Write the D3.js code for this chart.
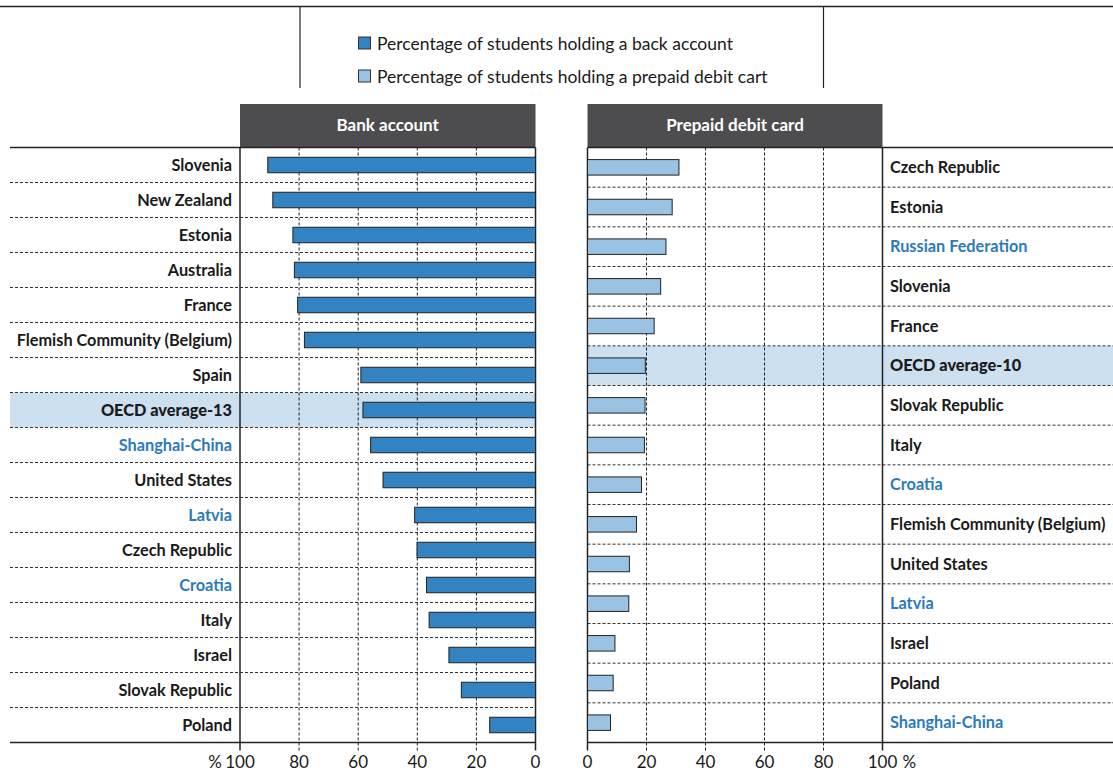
<!DOCTYPE html>
<html>
<head>
<meta charset="utf-8">
<script src="https://cdn.jsdelivr.net/npm/d3@7/dist/d3.min.js"></script>
<style>
  html, body { margin: 0; padding: 0; background: #fff; }
  svg { display: block; font-family: Lato, "Open Sans", sans-serif; }
</style>
</head>
<body>
<svg id="chart" width="1113" height="774"></svg>
<script>
// Bank account panel (left), sorted high to low
const bankCountries = ["Slovenia", "New Zealand", "Estonia", "Australia", "France",
  "Flemish Community (Belgium)", "Spain", "OECD average-13", "Shanghai-China",
  "United States", "Latvia", "Czech Republic", "Croatia", "Italy", "Israel",
  "Slovak Republic", "Poland"];
const bankValues = [90.6, 88.9, 82.1, 81.6, 80.5, 78.2, 59.1, 58.4, 55.8, 51.6,
  40.9, 40.1, 36.9, 36.0, 29.3, 25.1, 15.5];

// Prepaid debit card panel (right), sorted high to low
const cardCountries = ["Czech Republic", "Estonia", "Russian Federation", "Slovenia",
  "France", "OECD average-10", "Slovak Republic", "Italy", "Croatia",
  "Flemish Community (Belgium)", "United States", "Latvia", "Israel", "Poland",
  "Shanghai-China"];
const cardValues = [31.0, 28.7, 26.6, 24.8, 22.6, 19.6, 19.5, 19.3, 18.3, 16.6,
  14.2, 14.0, 9.3, 8.7, 7.8];

// Partner economies are labelled in blue
const partners = ["Shanghai-China", "Latvia", "Croatia", "Russian Federation"];
const averages = ["OECD average-13", "OECD average-10"];

const tickValues = [0, 20, 40, 60, 80, 100];
const legendLabels = ["Percentage of students holding a back account",
  "Percentage of students holding a prepaid debit cart"];
const panelTitles = ["Bank account", "Prepaid debit card"];

const COL_DARK = "#3383c2", COL_LIGHT = "#9ac3e3", COL_HEAD = "#4d4d4f",
      COL_BAND = "#cde0ef", COL_BLUE = "#2a7bbd", COL_TEXT = "#1a1a1a";

const svg = d3.select("#chart");
const plotTop = 147.5, plotBottom = 742.5;
const tickLabelY = 762.5, tickFont = 17;

// ----- top frame and legend -----
svg.append("line").attr("x1", 0).attr("x2", 1113).attr("y1", 6.5).attr("y2", 6.5)
  .attr("stroke", "#222").attr("stroke-width", 1.5);
[300, 823.5].forEach(x => svg.append("line").attr("x1", x).attr("x2", x)
  .attr("y1", 6.5).attr("y2", 88).attr("stroke", "#222").attr("stroke-width", 1.2));

const legend = svg.append("g");
[COL_DARK, COL_LIGHT].forEach((c, i) => {
  const y = 43.5 + i * 33;
  legend.append("rect").attr("x", 358.5).attr("y", y - 6.5).attr("width", 12).attr("height", 12)
    .attr("fill", c).attr("stroke", "#333").attr("stroke-width", 1);
  legend.append("text").attr("x", 377).attr("y", y).attr("dy", "0.35em")
    .attr("font-size", 17.5).attr("fill", COL_TEXT).text(legendLabels[i]);
});

// ----- panel builder -----
function panel(opts) {
  const { countries, values, x, labelX, labelAnchor, lineX0, lineX1, color, title } = opts;
  const g = svg.append("g");
  const y = d3.scaleBand().domain(countries).range([plotTop, plotBottom]).padding(0);
  const x0 = Math.min(x.range()[0], x.range()[1]);
  const x1 = Math.max(x.range()[0], x.range()[1]);

  // highlight band for the OECD average row
  const avg = countries.find(c => averages.includes(c));
  g.append("rect").attr("x", lineX0).attr("width", lineX1 - lineX0)
    .attr("y", y(avg)).attr("height", y.bandwidth()).attr("fill", COL_BAND);

  // header
  g.append("rect").attr("x", x0).attr("y", 104).attr("width", x1 - x0).attr("height", plotTop - 104)
    .attr("fill", COL_HEAD);
  g.append("text").attr("x", (x0 + x1) / 2).attr("y", 125.5).attr("dy", "0.35em")
    .attr("text-anchor", "middle").attr("fill", "#fff").attr("font-weight", 700)
    .attr("font-size", 17).text(title);

  // row separators
  g.selectAll(".sep").data(countries.slice(1)).join("line")
    .attr("x1", lineX0).attr("x2", lineX1)
    .attr("y1", d => y(d)).attr("y2", d => y(d))
    .attr("stroke", "#333").attr("stroke-width", 1).attr("stroke-dasharray", "3,2");

  // vertical gridlines and ticks
  g.selectAll(".grid").data(tickValues).join("line")
    .attr("x1", d => x(d)).attr("x2", d => x(d))
    .attr("y1", plotTop).attr("y2", plotBottom + 8)
    .attr("stroke", "#222")
    .attr("stroke-width", d => (d === 0 || d === 100) ? 1.5 : 1)
    .attr("stroke-dasharray", d => (d === 0 || d === 100) ? null : "3,2");

  // bars
  const bh = 15.5;
  g.selectAll(".bar").data(countries).join("rect")
    .attr("x", (d, i) => Math.min(x(0), x(values[i])))
    .attr("width", (d, i) => Math.abs(x(values[i]) - x(0)))
    .attr("y", d => y(d) + y.bandwidth() / 2 - bh / 2)
    .attr("height", bh)
    .attr("fill", color).attr("stroke", "#222").attr("stroke-width", 1);

  // top and bottom frame lines
  [plotTop, plotBottom].forEach(yy => g.append("line").attr("x1", lineX0).attr("x2", lineX1)
    .attr("y1", yy).attr("y2", yy).attr("stroke", "#222").attr("stroke-width", 1.5));

  // country labels
  g.selectAll(".lab").data(countries).join("text")
    .attr("x", labelX).attr("y", d => y(d) + y.bandwidth() / 2).attr("dy", "0.35em")
    .attr("text-anchor", labelAnchor).attr("font-size", 16.3)
    .attr("font-weight", d => averages.includes(d) ? 900 : 700)
    .attr("fill", d => partners.includes(d) ? COL_BLUE : COL_TEXT)
    .text(d => d);

  // axis numbers
  g.selectAll(".tick").data(tickValues).join("text")
    .attr("x", d => x(d)).attr("y", tickLabelY).attr("dy", "0.35em")
    .attr("text-anchor", "middle").attr("font-size", tickFont).attr("fill", COL_TEXT)
    .text(d => d);
  return g;
}

const xLeft = d3.scaleLinear().domain([0, 100]).range([535.5, 240]);
const gl = panel({ countries: bankCountries, values: bankValues, x: xLeft,
  labelX: 232, labelAnchor: "end", lineX0: 10, lineX1: 535.5,
  color: COL_DARK, title: panelTitles[0] });
gl.append("text").attr("x", xLeft(100) - 18).attr("y", tickLabelY).attr("dy", "0.35em")
  .attr("text-anchor", "end").attr("font-size", tickFont).attr("fill", COL_TEXT).text("%");

const xRight = d3.scaleLinear().domain([0, 100]).range([587.5, 882.5]);
const gr = panel({ countries: cardCountries, values: cardValues, x: xRight,
  labelX: 890, labelAnchor: "start", lineX0: 587.5, lineX1: 1113,
  color: COL_LIGHT, title: panelTitles[1] });
gr.append("text").attr("x", xRight(100) + 20).attr("y", tickLabelY).attr("dy", "0.35em")
  .attr("text-anchor", "start").attr("font-size", tickFont).attr("fill", COL_TEXT).text("%");
</script>
</body>
</html>
